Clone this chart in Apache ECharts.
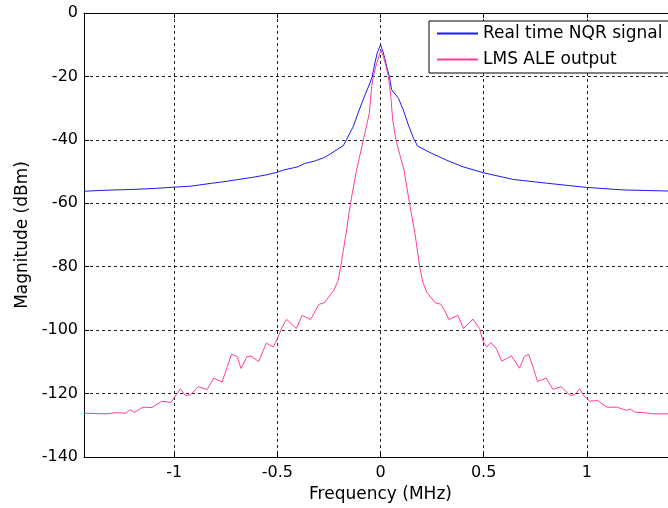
<!DOCTYPE html>
<html>
	<head>
		<meta charset="utf-8">
		<title>NQR spectrum</title>
		<style>
			html, body {
				margin: 0;
				padding: 0;
				background: #fff;
			}
			#chart {
				width: 668px;
				height: 508px;
			}
		</style>
		<script src="https://cdn.jsdelivr.net/npm/echarts@6.0.0/dist/echarts.min.js"></script>
	</head>

	<body>
		<div id="chart"></div>
		<script>
			// frequency (MHz) / magnitude (dBm)
			var nqrFreq = [-1.437, -1.34, -1.19, -1.09, -1.0, -0.92, -0.82, -0.76, -0.69, -0.61, -0.55, -0.50, -0.47, -0.40, -0.37, -0.32, -0.27, -0.23, -0.18, -0.164, -0.132, -0.10, -0.075, -0.051, -0.04, -0.027, -0.016, 0,
				0.014, 0.03, 0.043, 0.054, 0.087, 0.11, 0.135, 0.16, 0.18, 0.24, 0.32, 0.40, 0.50, 0.645, 0.81, 1.0, 1.18, 1.437];
			var nqrMag = [-56.2, -55.9, -55.6, -55.3, -54.9, -54.6, -53.7, -53.2, -52.5, -51.7, -51.0, -50.2, -49.5, -48.5, -47.5, -46.7, -45.5, -43.9, -41.8, -39.8, -35.8, -30.0, -25.8, -22.1, -20, -15.8, -12.6, -10.0,
				-12.6, -16.9, -20, -24.2, -26.9, -30.5, -35.3, -39.5, -42.0, -44.0, -46.4, -48.5, -50.4, -52.5, -53.7, -55.0, -55.8, -56.2];

			var aleFreq = [-1.437, -1.326, -1.278, -1.237, -1.213, -1.193, -1.151, -1.108, -1.06, -1.016, -0.97, -0.946, -0.922, -0.881, -0.841, -0.808, -0.768, -0.744, -0.722, -0.695, -0.676, -0.647, -0.627, -0.59, -0.554, -0.52, -0.50, -0.477, -0.455, -0.408, -0.38, -0.339, -0.299, -0.271, -0.226, -0.205, -0.193, -0.167, -0.145, -0.116, -0.103, -0.083, -0.054, -0.043, -0.035, -0.018, 0.002,
				0.014, 0.027, 0.038, 0.05, 0.059, 0.075, 0.098, 0.114, 0.14, 0.167, 0.19, 0.205, 0.224, 0.265, 0.292, 0.31, 0.332, 0.375, 0.402, 0.448, 0.48, 0.499, 0.515, 0.535, 0.561, 0.588, 0.634, 0.674, 0.697, 0.718, 0.742, 0.761, 0.803, 0.836, 0.875, 0.92, 0.94, 0.965, 0.984, 1.014, 1.052, 1.098, 1.147, 1.192, 1.211, 1.236, 1.276, 1.324, 1.437];
			var aleMag = [-126.2, -126.4, -126.0, -126.2, -125.1, -125.9, -124.3, -124.4, -122.4, -122.8, -118.5, -120.6, -120.4, -117.8, -118.8, -115.1, -116.4, -111.8, -107.6, -108.3, -112.1, -108.3, -108.2, -109.9, -104.1, -105.3, -102.7, -99.0, -96.6, -99.5, -95.3, -96.7, -91.9, -91.3, -87.4, -84.3, -80.1, -69.5, -59.8, -49.5, -45.8, -40, -31.6, -23.2, -20, -15.8, -11.6,
				-13.7, -16.9, -20, -26.3, -33.7, -40, -45.8, -49.5, -59.8, -69.5, -80.1, -84.8, -88, -91.4, -91.8, -93.7, -96.7, -95.3, -99.5, -96.5, -99.5, -103.8, -105.3, -103.9, -105.8, -109.8, -108.1, -112.0, -108.3, -107.6, -112.2, -116.2, -115.1, -118.7, -117.8, -120.6, -120.4, -118.5, -120.6, -122.4, -122.2, -124.3, -124.3, -125.3, -124.9, -125.9, -126.0, -126.4, -126.4];

			var seriesNames = ['Real time NQR signal', 'LMS ALE output'];
			var freqMin = -1.437;
			var freqMax = 1.437;

			var pairs = function(xs, ys) {
				var out = [];
				for (var i = 0; i < xs.length; i++) {
					out.push([xs[i], ys[i]]);
				}
				return out;
			};

			var font = 'DejaVu Sans';
			var gridLine = {
				lineStyle: {
					color: '#222',
					type: [3, 3],
					width: 1
				}
			};

			var chart = echarts.init(document.getElementById('chart'));
			chart.setOption({
				animation: false,
				backgroundColor: '#fff',
				textStyle: {
					fontFamily: font
				},
				grid: {
					left: 84,
					right: -9,
					top: 13,
					bottom: 51,
					outerBoundsMode: 'none'
				},
				legend: {
					orient: 'vertical',
					left: 429,
					top: 21,
					padding: [4, 8, 5, 7],
					itemWidth: 41,
					itemHeight: 14,
					itemGap: 9,
					borderColor: '#000',
					borderWidth: 1,
					borderRadius: 0,
					backgroundColor: '#fff',
					itemStyle: {
						opacity: 0
					},
					textStyle: {
						fontFamily: font,
						fontSize: 17,
						color: '#000'
					},
					data: seriesNames
				},
				xAxis: [{
					type: 'value',
					position: 'bottom',
					min: freqMin,
					max: freqMax,
					name: 'Frequency (MHz)',
					nameLocation: 'middle',
					nameGap: 28,
					nameTextStyle: {
						fontFamily: font,
						fontSize: 17,
						color: '#000'
					},
					axisLine: {
						onZero: false,
						lineStyle: { color: '#000' }
					},
					axisTick: {
						inside: true,
						length: 5,
						lineStyle: { color: '#000' }
					},
					axisLabel: {
						showMinLabel: false,
						showMaxLabel: false,
						margin: 8,
						fontSize: 16,
						color: '#000'
					},
					splitLine: gridLine
				}, {
					type: 'value',
					position: 'top',
					min: freqMin,
					max: freqMax,
					axisLine: {
						onZero: false,
						lineStyle: { color: '#000' }
					},
					axisTick: {
						inside: true,
						length: 5,
						lineStyle: { color: '#000' }
					},
					axisLabel: { show: false },
					splitLine: { show: false }
				}],
				yAxis: [{
					type: 'value',
					min: -140,
					max: 0,
					interval: 20,
					name: 'Magnitude (dBm)',
					nameLocation: 'middle',
					nameGap: 51,
					nameTextStyle: {
						fontFamily: font,
						fontSize: 17,
						color: '#000'
					},
					axisLine: {
						show: true,
						onZero: false,
						lineStyle: { color: '#000' }
					},
					axisTick: {
						show: true,
						inside: true,
						length: 5,
						lineStyle: { color: '#000' }
					},
					axisLabel: {
						margin: 6,
						fontSize: 16,
						color: '#000'
					},
					splitLine: gridLine
				}],
				series: [{
					name: seriesNames[0],
					type: 'line',
					symbol: 'none',
					silent: true,
					color: '#1a1aff',
					lineStyle: { width: 1, color: '#1a1aff' },
					data: pairs(nqrFreq, nqrMag)
				}, {
					name: seriesNames[1],
					type: 'line',
					symbol: 'none',
					silent: true,
					color: '#ff3d9e',
					lineStyle: { width: 1, color: '#ff3d9e' },
					data: pairs(aleFreq, aleMag)
				}]
			});
		</script>
	</body>
</html>
